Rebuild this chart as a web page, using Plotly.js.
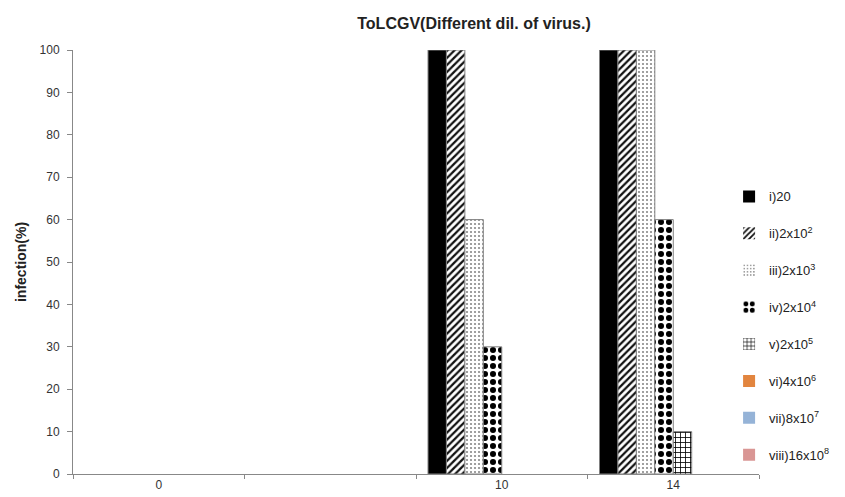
<!DOCTYPE html>
<html>
<head>
<meta charset="utf-8">
<script src="https://cdn.plot.ly/plotly-3.0.1.min.js"></script>
<style>html,body{margin:0;padding:0;background:#fff;}#chart{width:845px;height:497px;}</style>
</head>
<body>
<div id="chart"></div>
<script>
// Data
var categories = ["0", " ", "10", "14"];
var seriesNames = ["i)20", "ii)2x10<sup>2</sup>", "iii)2x10<sup>3</sup>", "iv)2x10<sup>4</sup>",
                   "v)2x10<sup>5</sup>", "vi)4x10<sup>6</sup>", "vii)8x10<sup>7</sup>", "viii)16x10<sup>8</sup>"];
var s1 = [0, 0, 100, 100];
var s2 = [0, 0, 100, 100];
var s3 = [0, 0, 60, 100];
var s4 = [0, 0, 30, 60];
var s5 = [0, 0, 0, 10];
var s6 = [0, 0, 0, 0];
var s7 = [0, 0, 0, 0];
var s8 = [0, 0, 0, 0];
var yTicks = [0, 10, 20, 30, 40, 50, 60, 70, 80, 90, 100];

var seriesValues = [s1, s2, s3, s4, s5, s6, s7, s8];
var markers = [
  {color: "#000000"},
  {color: "#ffffff", pattern: {shape: "/", fgcolor: "#111111", bgcolor: "#ffffff", size: 5, solidity: 0.45, fillmode: "replace"}},
  {color: "#ffffff", pattern: {shape: ".", fgcolor: "#888888", bgcolor: "#ffffff", size: 4, solidity: 0.22, fillmode: "replace"}},
  {color: "#ffffff", pattern: {shape: ".", fgcolor: "#000000", bgcolor: "#ffffff", size: 8, solidity: 0.45, fillmode: "replace"}},
  {color: "#ffffff", pattern: {shape: "+", fgcolor: "#000000", bgcolor: "#ffffff", size: 5, solidity: 0.3, fillmode: "replace"}},
  {color: "#E2853F"},
  {color: "#95B3D7"},
  {color: "#D99694"}
];

var traces = seriesValues.map(function (vals, i) {
  var m = markers[i];
  m.line = {color: "#808080", width: vals.map(function (v) { return v > 0 ? 1 : 0; })};
  return {
    type: "bar",
    name: seriesNames[i],
    x: categories,
    y: vals,
    marker: m,
    legendgroup: "g" + i,
    hoverinfo: "name+y"
  };
});

var layout = {
  width: 845,
  height: 497,
  paper_bgcolor: "#ffffff",
  plot_bgcolor: "#ffffff",
  margin: {l: 73, r: 85, t: 50, b: 23},
  barmode: "group",
  bargap: 0.14,
  bargroupgap: 0,
  font: {family: "Liberation Sans, Arial, sans-serif", color: "#000000"},
  title: {
    text: "ToLCGV(Different dil. of virus.)",
    x: 474 / 845, xref: "container", xanchor: "center",
    y: 1 - 23 / 497, yref: "container", yanchor: "middle",
    font: {size: 16, family: "Liberation Sans, Arial, sans-serif", weight: "bold", color: "#222222"}
  },
  xaxis: {
    type: "category",
    showline: true, linecolor: "#888888", linewidth: 1,
    ticks: "outside", tickson: "boundaries", ticklen: 4, tickcolor: "#888888",
    showgrid: false, zeroline: false,
    tickfont: {size: 12, color: "#333333"},
    fixedrange: true
  },
  yaxis: {
    range: [0, 100],
    tickvals: yTicks,
    showline: true, linecolor: "#888888", linewidth: 1,
    ticks: "outside", ticklen: 5, tickcolor: "#888888",
    ticklabelstandoff: 5,
    showgrid: false, zeroline: false,
    tickfont: {size: 12, color: "#333333"},
    title: {text: "infection(%)", font: {size: 14, weight: "bold", color: "#222222"}, standoff: 9},
    fixedrange: true
  },
  showlegend: true,
  legend: {
    x: 0.955, xref: "paper", xanchor: "left",
    y: 0.69, yref: "paper", yanchor: "top",
    font: {size: 13, color: "#222222"},
    bgcolor: "rgba(0,0,0,0)",
    tracegroupgap: 17,
    itemwidth: 30,
    traceorder: "grouped"
  }
};

Plotly.newPlot("chart", traces, layout, {displayModeBar: false, staticPlot: true});
</script>
</body>
</html>
